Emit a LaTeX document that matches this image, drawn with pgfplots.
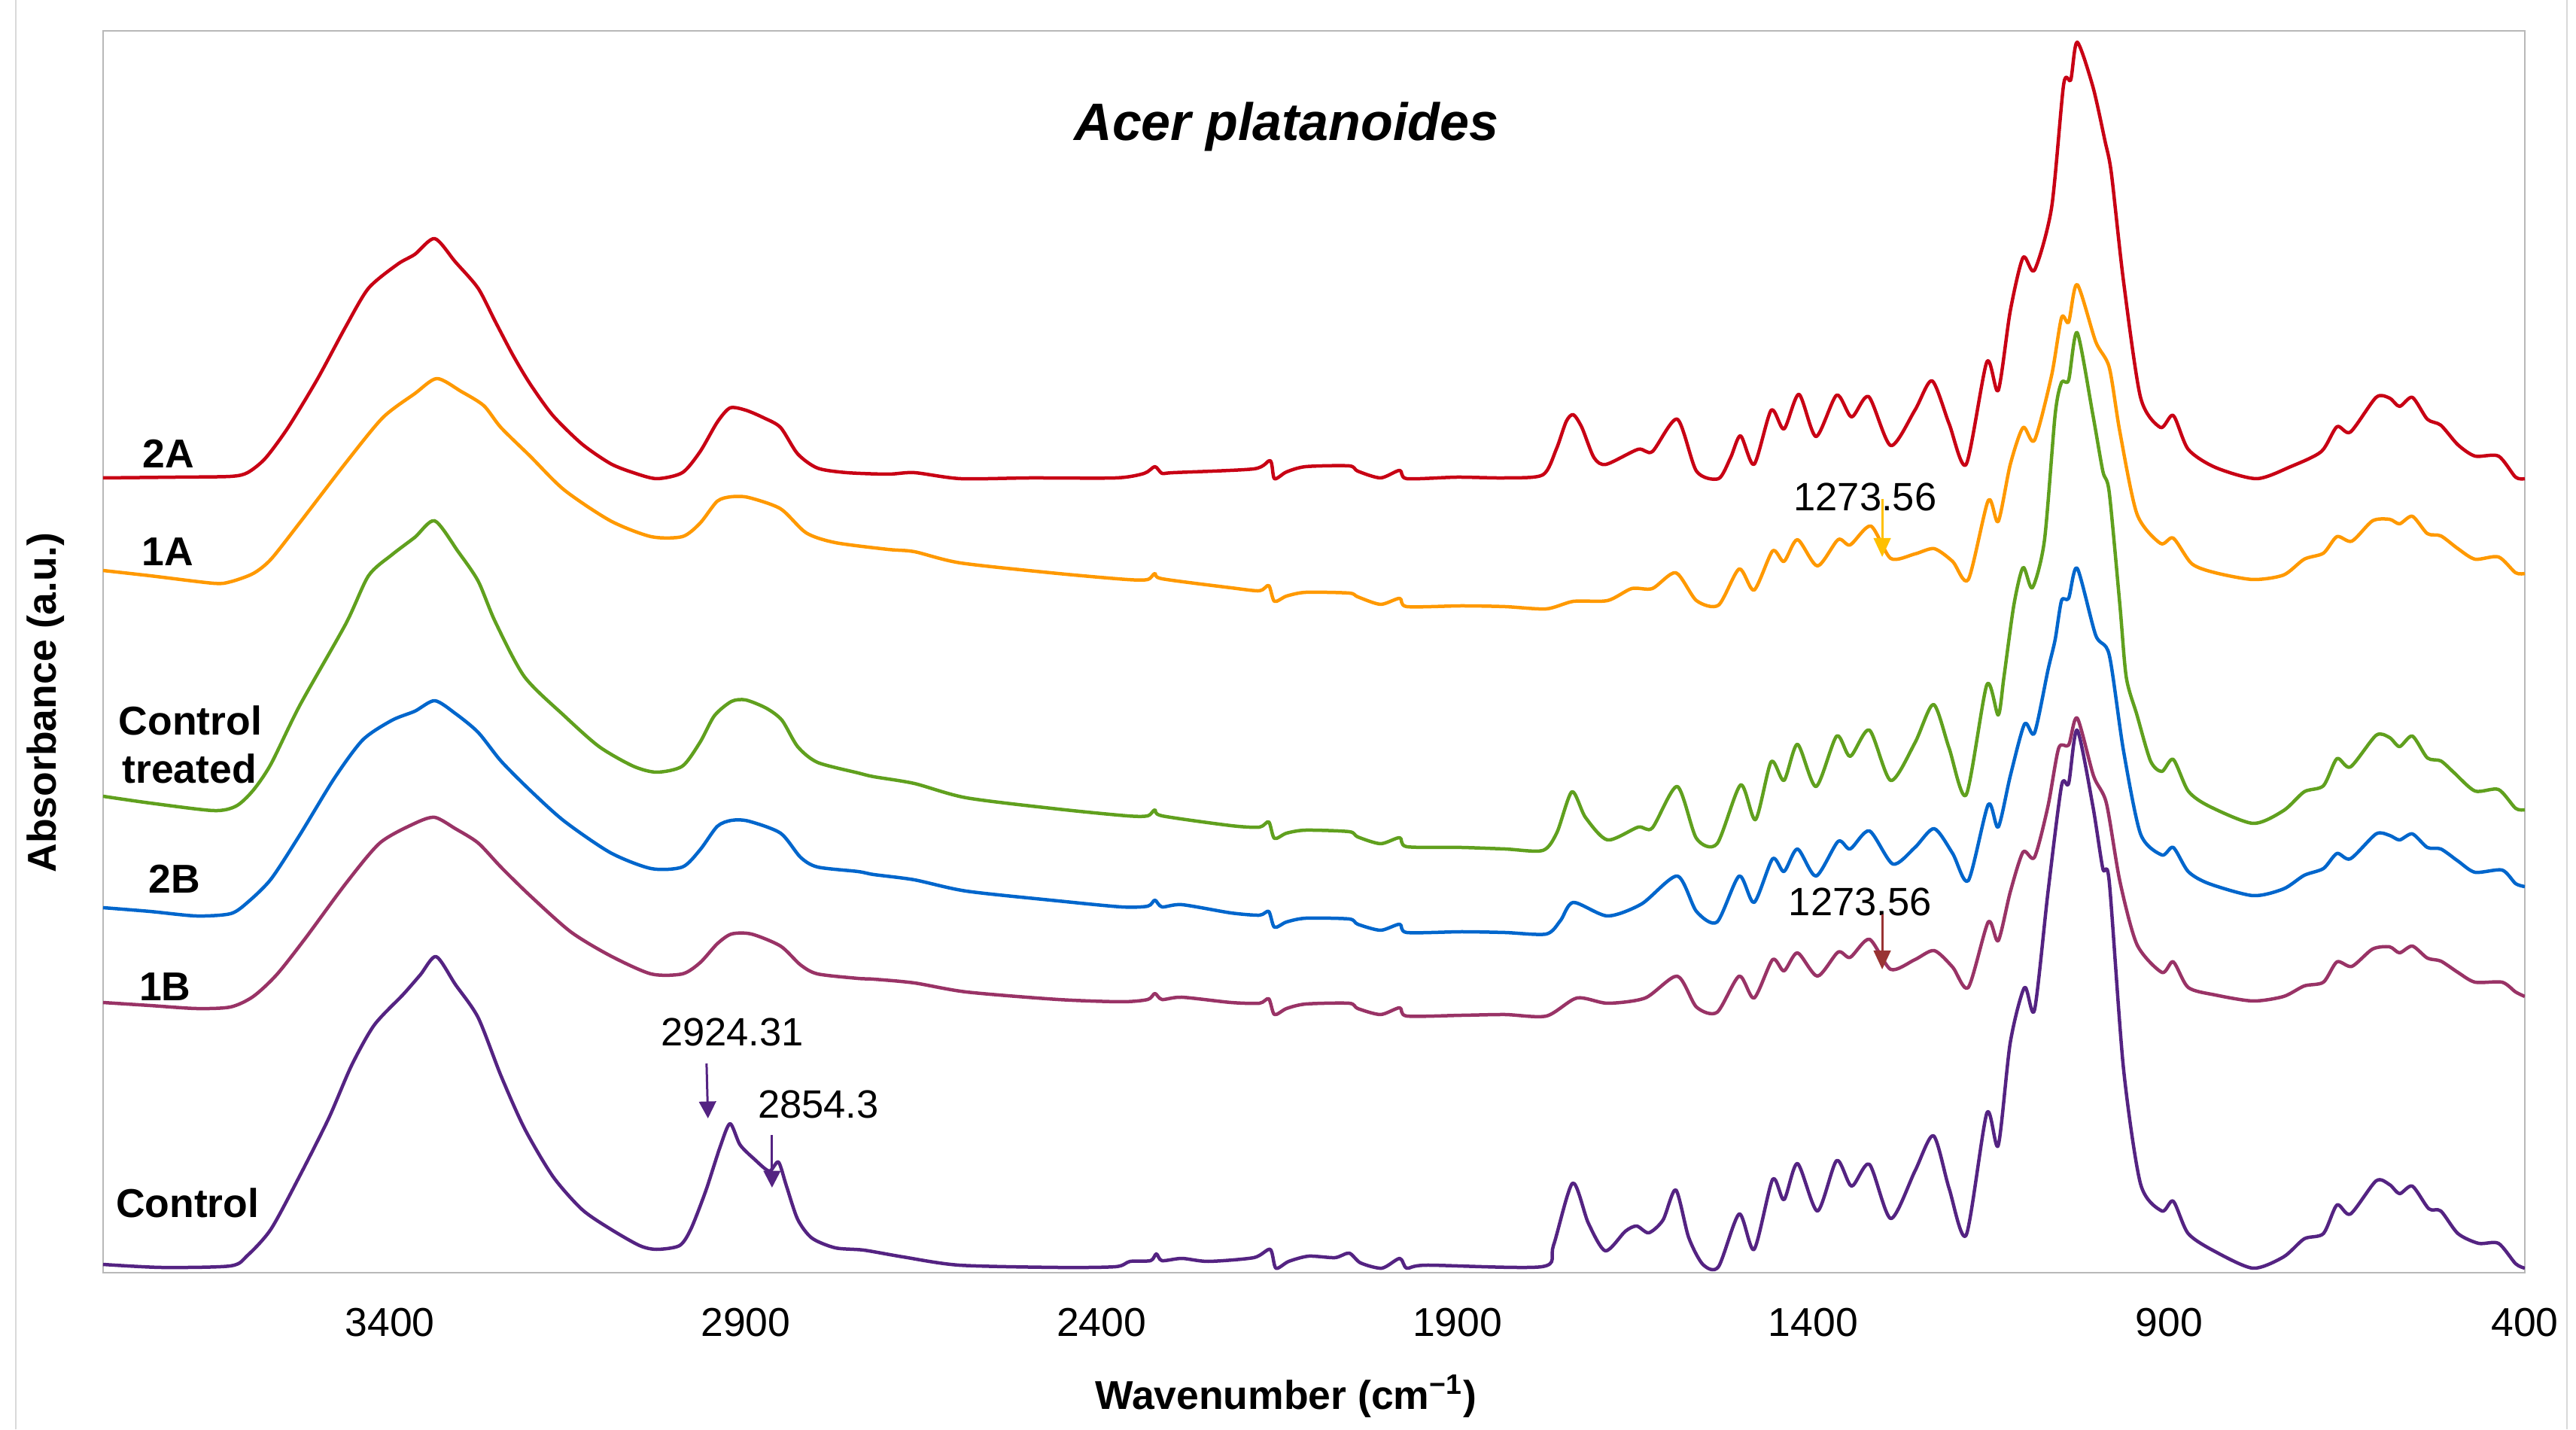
\documentclass[border=0pt]{standalone}
\usepackage{fontspec}
\setmainfont{Liberation Sans}
\usepackage{pgfplots}
\pgfplotsset{compat=1.18}
\usetikzlibrary{calc,arrows.meta}

\definecolor{c2A}{RGB}{200,0,20}
\definecolor{c1A}{RGB}{255,153,0}
\definecolor{cCT}{RGB}{96,160,30}
\definecolor{c2B}{RGB}{0,102,204}
\definecolor{c1B}{RGB}{153,51,102}
\definecolor{cC}{RGB}{84,35,130}
\definecolor{gold}{RGB}{255,192,0}
\definecolor{brownred}{RGB}{153,51,51}

\newcommand{\lbl}{\fontsize{10.7}{12}\selectfont\bfseries}
\newcommand{\ann}{\fontsize{10.5}{12}\selectfont}

\begin{document}
\begin{tikzpicture}
\begin{axis}[
  scale only axis, width=643.6pt, height=330pt,
  xmin=400, xmax=3803, ymin=0, ymax=165,
  x dir=reverse,
  xtick={400,900,...,3400},
  ytick=\empty,
  major tick length=0pt,
  axis line style={draw=black!28, line width=0.5pt},
  xticklabel style={font=\fontsize{10.7}{12}\selectfont, anchor=center, yshift=-13.2pt},
  /pgf/number format/assume math mode=true,
  /pgf/number format/1000 sep={},
  every axis plot/.append style={line width=0.9pt, line join=round, mark=none, smooth, tension=0.45},
]
% 2A
\addplot[c2A] coordinates {
(3803,105.6) (3700,105.7) (3624,105.8) (3600,106.3) (3575,108.2) (3543,112.3) (3502,118.7) (3462,125.7)
(3430,130.8) (3389,134.0) (3365,135.3) (3337,137.4) (3308,134.3) (3276,130.8) (3252,126.4) (3227,121.9)
(3203,118.1) (3171,113.9) (3130,110.1) (3090,107.5) (3058,106.3) (3025,105.5) (2989,106.3) (2964,109.1)
(2940,113.0) (2922,114.9) (2900,114.6) (2875,113.6) (2851,112.3) (2827,108.8) (2799,106.9) (2758,106.3)
(2700,106.1) (2663,106.3) (2598,105.5) (2500,105.6) (2380,105.6) (2340,106.2) (2325,107.1) (2315,106.2)
(2299,106.3) (2186,106.8) (2163,107.9) (2157,105.5) (2140,106.4) (2113,107.1) (2052,107.2) (2040,106.5)
(2008,105.6) (1981,106.6) (1971,105.5) (1900,105.7) (1833,105.6) (1780,106.0) (1761,109.4) (1747,113.1)
(1737,114.0) (1725,112.3) (1708,108.3) (1691,107.4) (1646,109.4) (1626,109.1) (1591,113.4) (1564,106.5)
(1533,105.5) (1516,108.3) (1502,111.2) (1483,107.4) (1459,114.6) (1441,112.1) (1420,116.7) (1396,111.1)
(1367,116.6) (1346,113.7) (1322,116.4) (1291,109.9) (1257,114.6) (1233,118.5) (1209,112.8) (1185,107.4)
(1156,121.0) (1140,117.2) (1123,127.8) (1105,134.9) (1089,133.2) (1065,141.5) (1048,157.9) (1038,158.5)
(1029,163.5) (1007,157.6) (990,150.4) (981,146.1) (964,131.8) (940,116.3) (912,112.3) (894,113.9)
(873,109.4) (835,107.0) (777,105.5) (729,107.1) (686,109.1) (664,112.4) (645,111.7) (609,116.3)
(590,116.2) (576,115.1) (558,116.3) (537,113.4) (518,112.6) (494,110.0) (470,108.5) (437,108.5)
(413,105.7) (400,105.5)
};
% 1A
\addplot[c1A] coordinates {
(3803,93.3) (3737,92.6) (3648,91.6) (3624,91.8) (3592,92.9) (3567,94.8) (3527,99.6) (3462,107.6)
(3410,113.6) (3365,116.8) (3334,118.8) (3300,117.1) (3268,115.2) (3244,112.3) (3203,108.5) (3155,104.0)
(3090,99.9) (3033,97.8) (2989,97.8) (2964,99.6) (2940,102.5) (2920,103.1) (2896,103.0) (2851,101.5)
(2815,98.3) (2774,97.0) (2700,96.1) (2663,95.8) (2598,94.3) (2461,92.9) (2364,92.1) (2335,92.1)
(2325,92.9) (2315,92.2) (2218,91.0) (2178,90.6) (2165,91.3) (2157,89.2) (2140,89.9) (2113,90.4)
(2052,90.3) (2040,89.8) (2008,88.8) (1981,89.6) (1971,88.5) (1894,88.6) (1833,88.5) (1775,88.2)
(1737,89.2) (1689,89.3) (1655,90.9) (1626,90.9) (1593,93.0) (1564,89.3) (1533,88.7) (1504,93.5)
(1483,90.7) (1457,95.9) (1441,94.5) (1422,97.4) (1394,93.9) (1365,97.4) (1348,96.7) (1319,99.2)
(1291,94.9) (1257,95.5) (1230,96.2) (1204,94.5) (1182,92.1) (1154,102.6) (1140,99.8) (1123,107.4)
(1105,112.3) (1089,110.6) (1065,119.2) (1051,126.9) (1041,126.3) (1029,131.3) (1003,123.7) (984,120.3)
(969,111.7) (945,100.8) (912,96.9) (894,97.6) (868,94.2) (835,93.0) (782,92.1) (739,92.7)
(710,94.8) (683,95.6) (664,97.8) (643,97.2) (614,99.9) (590,100.1) (576,99.5) (558,100.5)
(537,98.2) (518,97.9) (494,96.2) (470,94.8) (437,95.1) (413,93.0) (400,92.9)
};
% Control treated
\addplot[cCT] coordinates {
(3803,63.3) (3737,62.4) (3648,61.4) (3616,62.0) (3592,64.1) (3567,67.6) (3527,75.3) (3462,86.2)
(3430,92.6) (3397,95.4) (3365,97.7) (3337,99.9) (3304,95.8) (3276,91.9) (3252,86.5) (3211,79.2)
(3155,74.0) (3106,69.9) (3058,67.3) (3025,66.5) (2989,67.3) (2964,70.5) (2944,74.0) (2920,75.9)
(2900,76.1) (2871,75.0) (2849,73.4) (2827,69.9) (2799,67.8) (2742,66.4) (2720,65.9) (2663,65.0)
(2590,63.1) (2461,61.6) (2364,60.7) (2335,60.7) (2325,61.5) (2315,60.7) (2218,59.4) (2178,59.2)
(2165,59.9) (2157,57.7) (2140,58.4) (2113,58.8) (2052,58.6) (2040,57.9) (2008,57.0) (1981,57.8)
(1971,56.6) (1894,56.5) (1833,56.3) (1780,56.1) (1760,58.5) (1739,63.9) (1720,60.5) (1689,57.5)
(1646,59.2) (1626,59.1) (1591,64.6) (1564,57.7) (1535,57.0) (1502,64.8) (1481,60.2) (1459,67.9)
(1441,65.4) (1422,70.2) (1396,64.6) (1367,71.3) (1348,68.6) (1321,72.1) (1291,65.4) (1257,70.4)
(1231,75.5) (1209,69.7) (1185,63.5) (1156,78.1) (1140,74.1) (1132,79.1) (1118,88.7) (1105,93.7)
(1092,91.0) (1075,97.3) (1060,114.0) (1051,118.3) (1041,118.6) (1029,124.9) (1007,114.0) (993,106.5)
(984,103.7) (969,88.7) (960,79.1) (945,74.1) (926,68.0) (910,66.6) (894,68.2) (873,64.0)
(844,62.0) (782,59.7) (739,61.4) (710,63.9) (683,64.7) (664,68.3) (645,67.2) (609,71.4)
(590,71.1) (576,69.9) (558,71.3) (537,68.4) (518,68.0) (499,66.4) (470,64.0) (437,64.2)
(413,61.7) (400,61.5)
};
% 2B
\addplot[c2B] coordinates {
(3803,48.5) (3737,48.0) (3672,47.4) (3624,47.7) (3600,49.2) (3567,52.3) (3527,58.1) (3478,65.7)
(3438,70.8) (3397,73.4) (3365,74.6) (3337,76.0) (3308,74.3) (3276,71.8) (3244,68.0) (3203,64.1)
(3155,60.0) (3090,55.8) (3033,53.7) (2989,53.9) (2964,56.2) (2940,59.3) (2920,60.1) (2896,60.0)
(2851,58.4) (2823,55.2) (2799,53.9) (2742,53.3) (2720,52.9) (2663,52.2) (2590,50.7) (2461,49.4)
(2372,48.6) (2335,48.7) (2325,49.5) (2315,48.6) (2287,48.9) (2218,47.8) (2178,47.5) (2165,48.0)
(2157,45.9) (2140,46.6) (2113,47.1) (2052,47.0) (2040,46.3) (2008,45.5) (1981,46.3) (1971,45.2)
(1894,45.3) (1833,45.2) (1775,45.0) (1755,46.8) (1737,49.2) (1689,47.4) (1641,49.0) (1591,52.7)
(1564,48.0) (1535,46.6) (1504,52.7) (1483,49.2) (1457,55.0) (1441,53.3) (1422,56.3) (1396,52.7)
(1365,57.3) (1348,56.3) (1321,58.7) (1288,54.3) (1257,56.5) (1230,59.0) (1204,55.7) (1182,52.1)
(1154,62.2) (1140,59.2) (1123,66.0) (1103,72.9) (1089,71.7) (1070,80.1) (1060,84.1) (1051,89.3)
(1041,89.6) (1029,93.6) (1003,84.7) (984,82.1) (964,69.4) (940,58.3) (910,55.5) (894,56.5)
(873,53.3) (844,51.7) (782,50.1) (739,51.0) (710,52.8) (683,53.7) (664,55.7) (645,55.0)
(609,58.3) (590,58.1) (576,57.5) (558,58.3) (537,56.5) (518,56.3) (494,54.7) (470,53.2)
(432,53.5) (413,51.7) (400,51.3)
};
% 1B
\addplot[c1B] coordinates {
(3803,35.9) (3737,35.5) (3672,35.1) (3624,35.3) (3592,36.7) (3559,39.6) (3519,44.4) (3462,51.7)
(3414,57.1) (3365,59.7) (3337,60.5) (3308,59.0) (3276,57.1) (3244,53.9) (3203,50.1) (3146,45.3)
(3090,42.1) (3033,39.7) (2989,39.7) (2964,41.2) (2940,43.7) (2920,45.0) (2892,45.0) (2851,43.4)
(2823,40.9) (2799,39.7) (2742,39.1) (2720,39.0) (2663,38.5) (2590,37.3) (2461,36.3) (2372,36.0)
(2335,36.3) (2325,37.1) (2315,36.3) (2287,36.6) (2218,35.9) (2178,35.8) (2165,36.4) (2157,34.3)
(2140,35.1) (2113,35.7) (2052,35.8) (2040,35.1) (2008,34.3) (1981,35.2) (1971,34.1) (1894,34.2)
(1833,34.3) (1775,34.1) (1732,36.5) (1689,35.8) (1636,36.5) (1591,39.4) (1564,35.3) (1535,34.6)
(1504,39.4) (1483,36.5) (1457,41.6) (1441,40.1) (1422,42.5) (1394,39.4) (1365,42.6) (1348,41.9)
(1321,44.3) (1291,40.3) (1257,41.6) (1230,42.8) (1204,40.6) (1182,37.9) (1154,46.6) (1140,44.1)
(1123,50.6) (1105,55.9) (1089,55.2) (1070,62.0) (1055,69.7) (1041,70.1) (1029,73.7) (1006,66.0)
(988,62.4) (969,52.0) (945,43.6) (910,39.9) (894,41.3) (873,37.9) (835,36.9) (782,36.1)
(739,36.7) (710,38.1) (683,38.6) (664,41.3) (643,40.7) (614,43.0) (590,43.3) (576,42.5)
(558,43.4) (537,41.8) (518,41.4) (494,39.9) (470,38.6) (432,38.6) (413,37.3) (400,36.7)
};
% Control
\addplot[cC] coordinates {
(3803,1.1) (3721,0.7) (3624,0.9) (3600,2.3) (3567,5.8) (3527,12.8) (3486,20.5) (3454,27.5)
(3422,32.9) (3381,37.0) (3357,39.6) (3335,42.0) (3308,38.3) (3276,33.9) (3244,26.2) (3211,19.2)
(3171,12.8) (3130,8.4) (3090,5.8) (3049,3.6) (3025,3.1) (2993,3.6) (2977,5.8) (2956,10.9)
(2936,16.7) (2922,19.8) (2908,17.0) (2888,15.1) (2867,13.5) (2854,14.7) (2843,11.6) (2827,7.1)
(2807,4.6) (2774,3.3) (2734,3.0) (2679,2.1) (2600,1.0) (2461,0.7) (2380,0.8) (2360,1.5)
(2331,1.6) (2323,2.5) (2315,1.6) (2287,1.9) (2250,1.5) (2186,2.0) (2163,3.1) (2155,0.6)
(2137,1.5) (2109,2.2) (2072,2.0) (2052,2.6) (2036,1.3) (2006,0.6) (1981,1.9) (1971,0.6)
(1943,1.0) (1781,0.8) (1765,3.6) (1738,11.9) (1716,6.6) (1692,2.9) (1664,5.5) (1648,6.2)
(1631,5.3) (1611,7.0) (1593,11.0) (1575,4.7) (1555,1.1) (1533,0.8) (1504,7.8) (1483,3.1)
(1457,12.4) (1441,9.7) (1422,14.5) (1394,8.2) (1367,14.9) (1346,11.5) (1321,14.4) (1291,7.2)
(1257,13.5) (1231,18.2) (1209,11.2) (1185,5.0) (1156,21.2) (1140,16.9) (1123,30.6) (1103,37.9)
(1089,34.9) (1070,50.6) (1051,64.7) (1041,65.0) (1029,72.1) (1007,62.0) (993,53.7) (984,52.0)
(964,27.2) (940,11.8) (910,8.2) (894,9.5) (873,5.2) (835,2.8) (782,0.6) (739,2.1)
(710,4.5) (683,5.2) (664,9.0) (645,7.8) (609,12.2) (590,11.7) (576,10.5) (558,11.5)
(535,8.5) (518,8.2) (494,5.2) (465,3.9) (437,3.9) (413,1.2) (400,0.6)
};

% title and series names
\node[font=\fontsize{14}{16}\selectfont\bfseries\itshape] at (axis cs:2140,152.3) {Acer platanoides};
\node[font=\lbl, inner sep=0] at (axis cs:3711,108.8) {2A};
\node[font=\lbl, inner sep=0] at (axis cs:3712,95.8) {1A};
\node[font=\lbl, inner sep=0, anchor=west] at (axis cs:3782,73.4) {Control};
\node[font=\lbl, inner sep=0, anchor=west] at (axis cs:3777,67.0) {treated};
\node[font=\lbl, inner sep=0] at (axis cs:3703,52.3) {2B};
\node[font=\lbl, inner sep=0] at (axis cs:3716,38.0) {1B};
\node[font=\lbl, inner sep=0, anchor=west] at (axis cs:3786,9.3) {Control};

% peak annotations
\node[font=\ann, inner sep=0] at (axis cs:2919,32.0) {2924.31};
\node[font=\ann, inner sep=0] at (axis cs:2798,22.4) {2854.3};
\node[font=\ann, inner sep=0] at (axis cs:1327,103.1) {1273.56};
\node[font=\ann, inner sep=0] at (axis cs:1334,49.3) {1273.56};
\draw[cC, line width=0.6pt, -{Triangle[length=4.5pt,width=4.5pt]}] (axis cs:2955,27.8) -- (axis cs:2953,20.5);
\draw[cC, line width=0.6pt, -{Triangle[length=4.5pt,width=4.5pt]}] (axis cs:2863,18.3) -- (axis cs:2863,11.3);
\draw[gold, line width=0.6pt, -{Triangle[length=5pt,width=4.5pt]}] (axis cs:1303,102.8) -- (axis cs:1303,95.1);
\draw[brownred, line width=0.6pt, -{Triangle[length=5pt,width=4.5pt]}] (axis cs:1303,47.6) -- (axis cs:1303,40.3);

\coordinate (bl) at (rel axis cs:0,0);
\coordinate (tr) at (rel axis cs:1,1);
\end{axis}

\node[font=\lbl, rotate=90] at ($(bl)+(-15.2pt,151.5pt)$) {Absorbance (a.u.)};
\node[font=\lbl] at ($(bl)+(314.4pt,-32.8pt)$) {Wavenumber (cm\textsuperscript{−1})};
\draw[black!15, line width=0.4pt] ($(bl)+(-23.2pt,-41.6pt)$) -- ($(bl)+(-23.2pt,338.2pt)$);
\draw[black!15, line width=0.4pt] ($(tr)+(11.2pt,8.2pt)$) -- ($(tr)+(11.2pt,-371.6pt)$);
\pgfresetboundingbox
\useasboundingbox ($(bl)+(-27.4pt,-41.6pt)$) rectangle ($(tr)+(13.6pt,8.2pt)$);
\end{tikzpicture}
\end{document}
